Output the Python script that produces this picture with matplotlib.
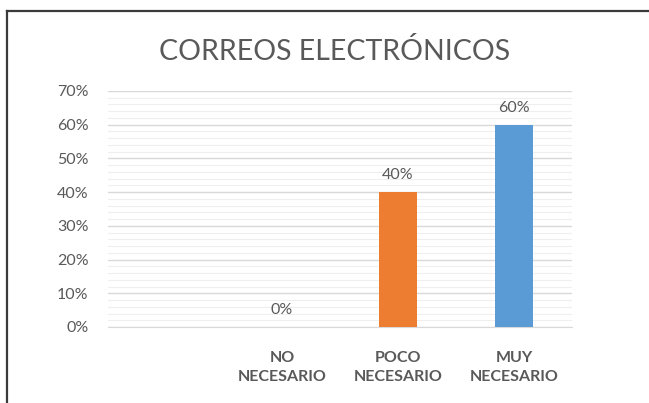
import matplotlib.pyplot as plt
from matplotlib.lines import Line2D
from matplotlib.ticker import MultipleLocator, FuncFormatter

# data
categories = ["", "NO\nNECESARIO", "POCO\nNECESARIO", "MUY\nNECESARIO"]
values = [None, 0, 40, 60]
colors = ["#5B9BD5", "#5B9BD5", "#ED7D31", "#5B9BD5"]
yticks = [0, 10, 20, 30, 40, 50, 60, 70]

plt.rcParams['font.family'] = ['Lato', 'DejaVu Sans']
gray = "#595959"

fig = plt.figure(figsize=(6.49, 4.03), dpi=100)
ax = fig.add_axes([108 / 649, 1 - 327 / 403, (572 - 108) / 649, (327 - 91) / 403])

x = list(range(len(categories)))
for i, v in enumerate(values):
    if v is None:
        continue
    ax.bar(i, v, width=0.33, color=colors[i], zorder=3)
    ax.text(i, v + 3.0, f"{v}%", ha="center", va="bottom", fontsize=11.5, color=gray)

ax.set_xlim(-0.5, len(categories) - 0.5)
ax.set_ylim(0, 70)
ax.set_yticks(yticks)
ax.yaxis.set_major_formatter(FuncFormatter(lambda v, p: f"{v:.0f}%"))
ax.yaxis.set_minor_locator(MultipleLocator(2))
ax.set_xticks(x)
ax.set_xticklabels(categories, fontsize=11.5, fontweight="bold", color=gray, linespacing=1.45)
ax.tick_params(axis="y", labelsize=11.5, labelcolor=gray, length=0, pad=14)
ax.tick_params(axis="y", which="minor", length=0)
ax.tick_params(axis="x", length=0, pad=17)
ax.grid(axis="y", which="major", color="#D9D9D9", linewidth=1.0, zorder=0)
ax.grid(axis="y", which="minor", color="#EFEFEF", linewidth=0.8, zorder=0)
for s in ["top", "right", "left"]:
    ax.spines[s].set_visible(False)
ax.spines["bottom"].set_color("#D9D9D9")

fig.text(335 / 649, 1 - 52 / 403, "CORREOS ELECTRÓNICOS", ha="center", va="center",
         fontsize=20.5, color=gray)

# chart border (left and top edges visible)
fig.add_artist(Line2D([7 / 649, 7 / 649], [0, 1 - 11 / 403], color="#3a3a3a", linewidth=1.6,
                      transform=fig.transFigure))
fig.add_artist(Line2D([7 / 649, 1], [1 - 11 / 403, 1 - 11 / 403], color="#3a3a3a", linewidth=1.6,
                      transform=fig.transFigure))

fig.savefig("out.png", dpi=100)
